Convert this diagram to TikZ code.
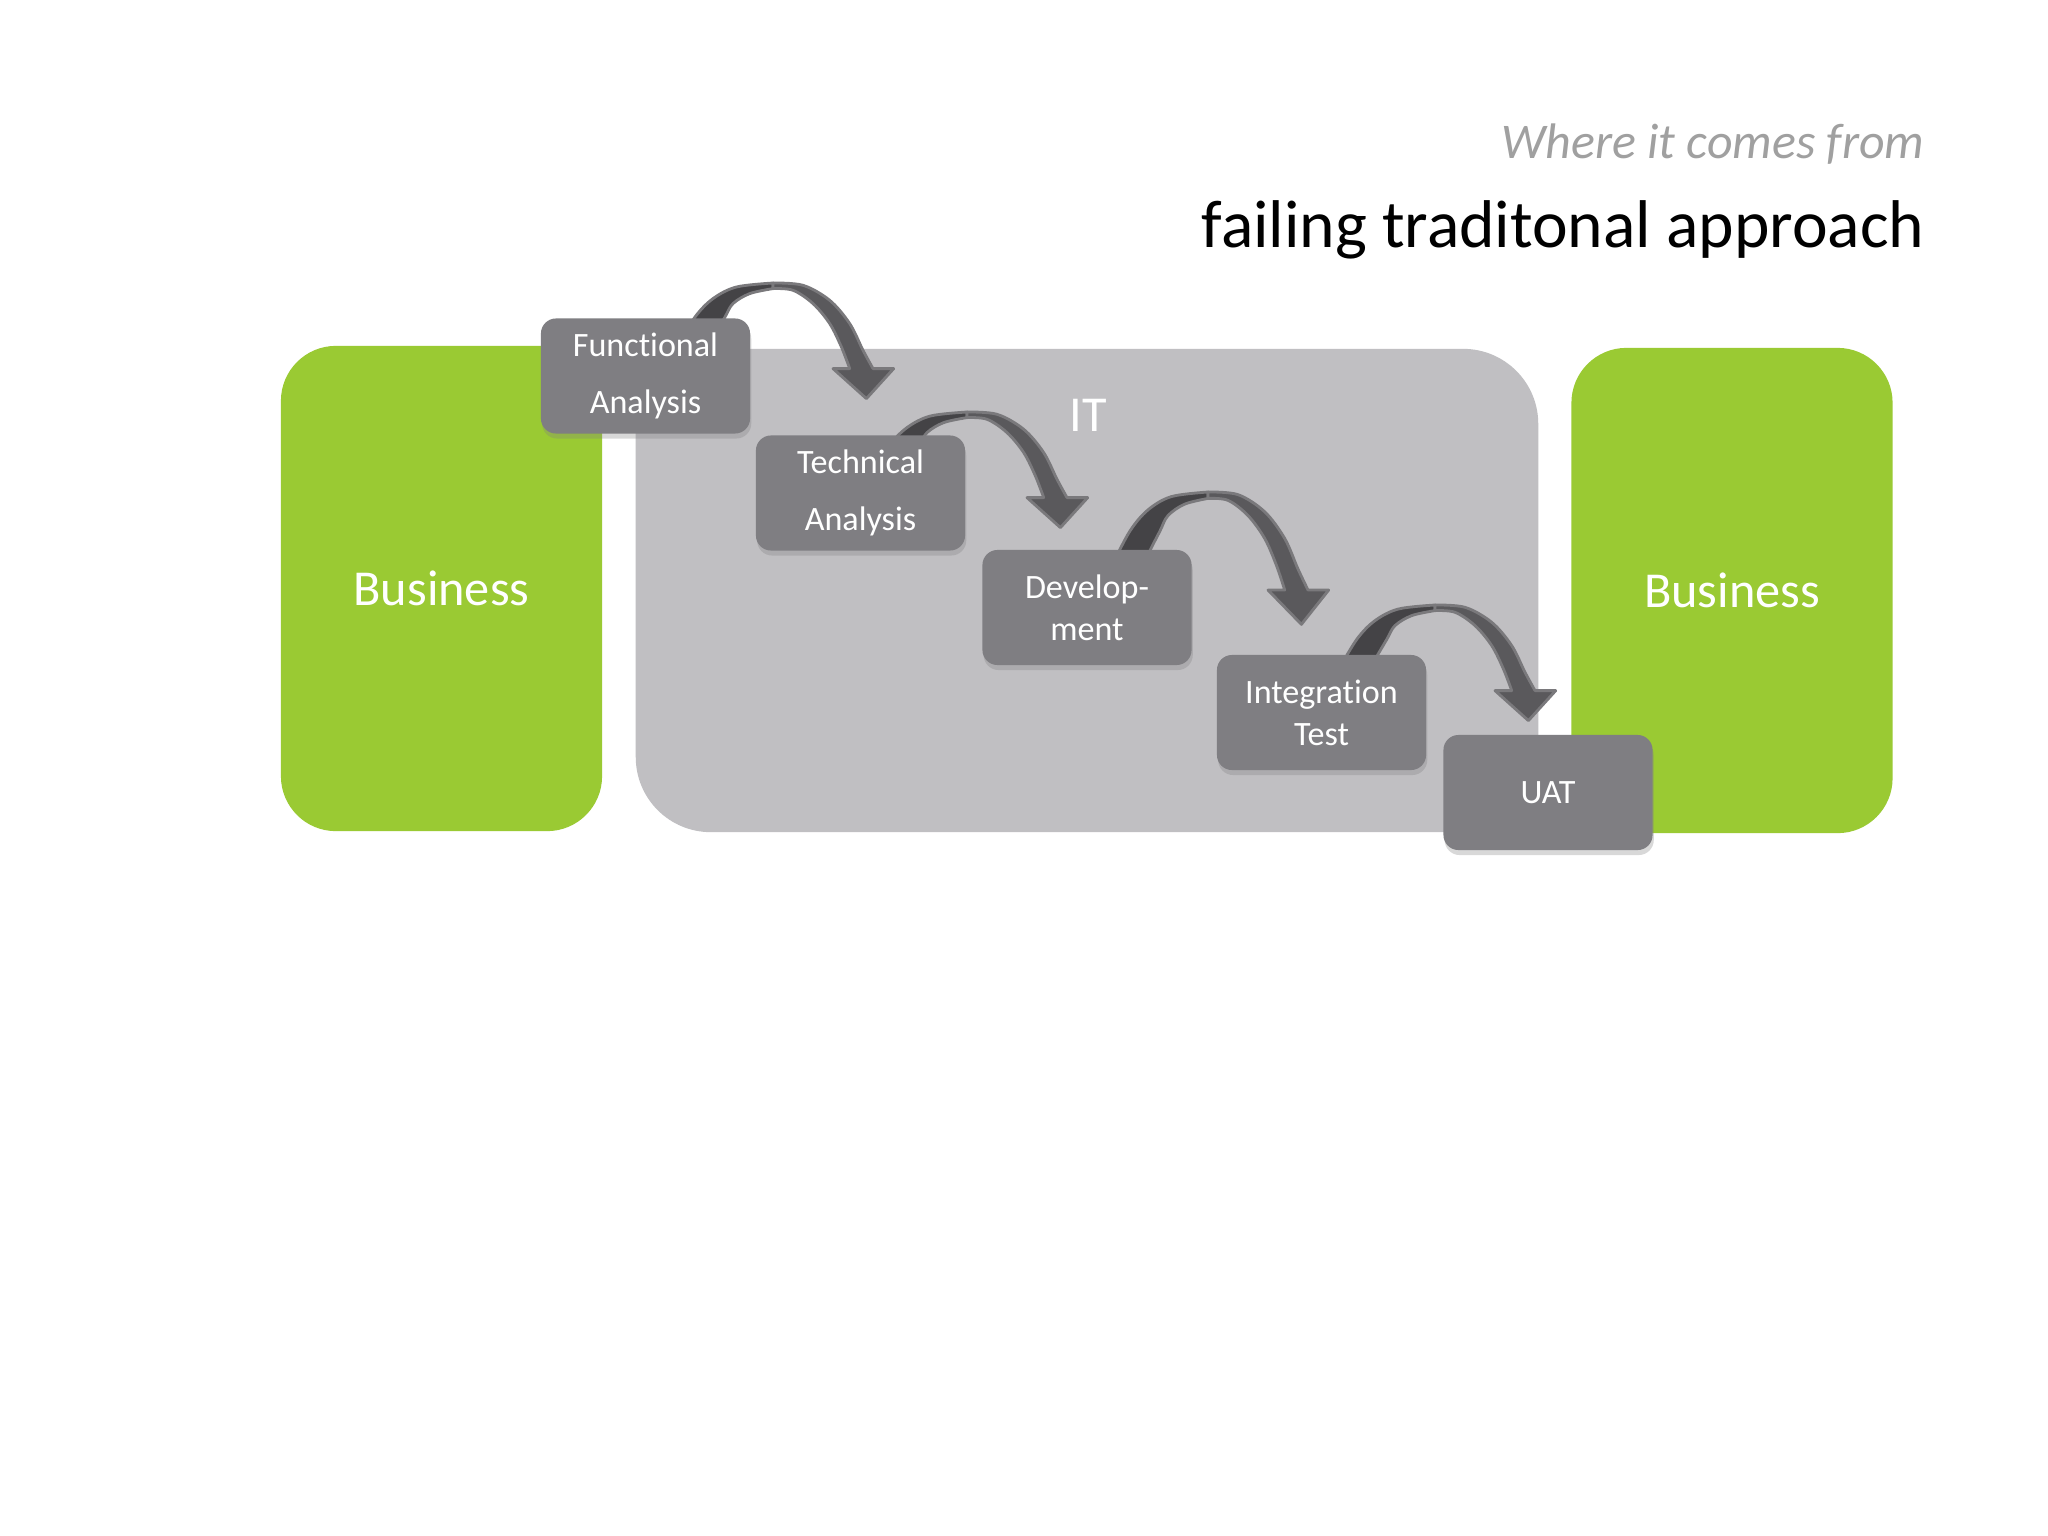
\documentclass[tikz,border=0pt]{standalone}
\usepackage{fontspec}
\setmainfont[RawFeature={-liga;-dlig}]{Carlito}
\usetikzlibrary{shadows}
\definecolor{bizgreen}{RGB}{154,202,51}
\definecolor{itgray}{RGB}{192,191,194}
\definecolor{stepgray}{RGB}{127,126,130}
\definecolor{arrdark}{RGB}{68,67,70}
\definecolor{arrmid}{RGB}{90,89,92}
\definecolor{arredge}{RGB}{122,121,124}
\definecolor{subgray}{RGB}{160,160,160}
\tikzset{
  curvearrow/.pic={
    \filldraw[fill=arrdark,draw=arredge,line width=0.8pt,line join=round]
      plot[smooth,tension=0.55] coordinates {(-96,64) (-78,34) (-60,15.6) (-36.6,4) (0,0)}
      -- plot[smooth,tension=0.55] coordinates {(0,5.6) (-23.3,10.6) (-40,20.6) (-48,34) (-58,51) (-65,64)}
      -- cycle;
    \filldraw[fill=arrmid,draw=arredge,line width=0.8pt,line join=round]
      plot[smooth,tension=0.55] coordinates {(0,0) (30,2.3) (56.7,17.3) (76.7,40.6) (90,67.3) (100,85.6)}
      -- (120.7,85.6) -- (93.4,115.6) -- (60,85.6)
      -- plot[smooth,tension=0.55] coordinates {(76.7,85.6) (68.4,64) (56.7,40.6) (40,20.6) (20,7.3) (0,5.6)}
      -- cycle;
  }
}
\begin{document}
\begin{tikzpicture}[x=0.01cm,y=-0.01cm,
  bizbox/.style={fill=bizgreen, rounded corners=0.55cm, minimum width=3.21cm, minimum height=4.85cm,
    inner sep=0pt, text=white, font=\fontsize{14.3}{17}\selectfont},
  itbox/.style={fill=itgray, rounded corners=0.75cm, minimum width=9.02cm, minimum height=4.83cm, inner sep=0pt},
  stepbox/.style={fill=stepgray, rounded corners=0.15cm, minimum width=2.09cm, minimum height=1.15cm,
    inner sep=0pt, text=white, align=center,
    drop shadow={shadow xshift=0.012cm, shadow yshift=-0.05cm, opacity=0.3}},
  widestep/.style={font=\fontsize{9.7}{16.4}\selectfont},
  narrowstep/.style={font=\fontsize{9.7}{12}\selectfont}
]
\useasboundingbox (0,0) rectangle (2048,1536);
\fill[white] (0,0) rectangle (2048,1536);

% background blocks
\node[bizbox] (bizL) at (441.5,588.5) {Business};
\node[bizbox] (bizR) at (1732,590.5) {Business};
\node[itbox] (itarea) at (1087,590.5) {};
\node[text=white, inner sep=0pt, font=\fontsize{14.3}{17}\selectfont] (itlabel) at (1088,415) {IT};

% curved arrows
\pic at (773,283) {curvearrow};
\pic at (967,412) {curvearrow};
\pic[yscale=1.145] at (1208,492) {curvearrow};
\pic at (1435,605) {curvearrow};

% steps
\node[stepbox, widestep] (fa) at (645.5,376) {Functional\\Analysis};
\node[stepbox, widestep] (ta) at (860.5,493) {Technical\\Analysis};
\node[stepbox, narrowstep] (dev) at (1087,607.5) {Develop-\\ment};
\node[stepbox, narrowstep] (intt) at (1321.5,712.5) {Integration\\Test};
\node[stepbox, narrowstep] (uat) at (1548,792.5) {UAT};

% titles
\node[anchor=base east, inner sep=0pt, text=subgray, font=\itshape\fontsize{14.2}{17}\selectfont] (sub) at (1925,158) {Where it comes from};
\node[anchor=base east, inner sep=0pt, font=\fontsize{19.2}{23}\selectfont] (title) at (1925,247) {failing traditonal approach};
\end{tikzpicture}
\end{document}
